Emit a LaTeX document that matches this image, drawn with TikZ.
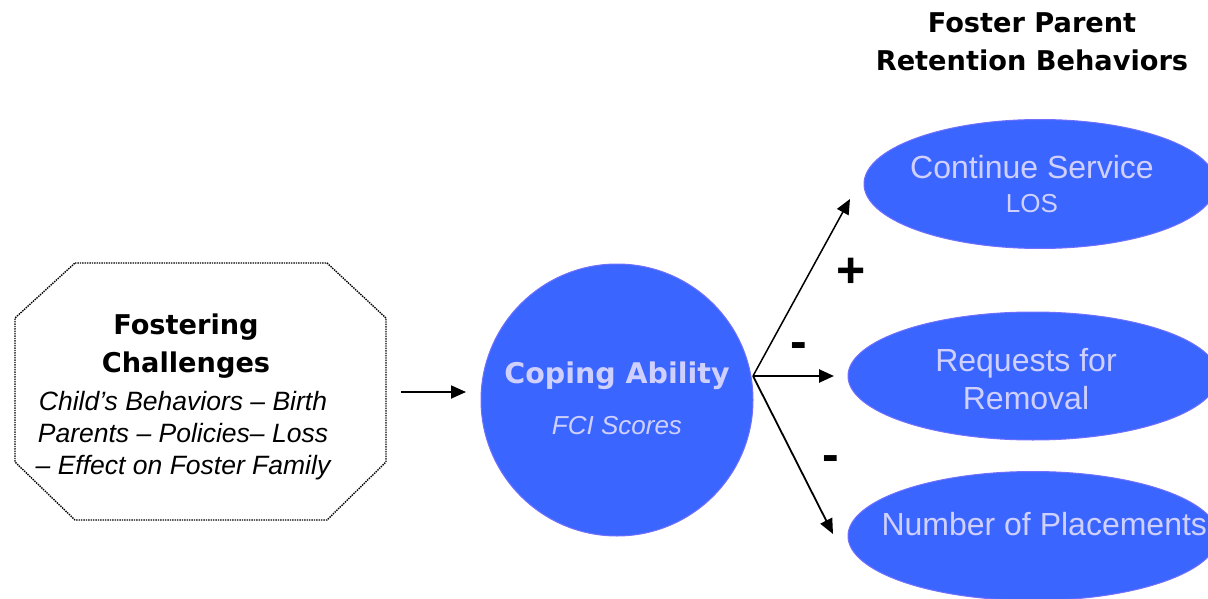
\documentclass[tikz,border=0pt]{standalone}
\usepackage{fontspec}
\setmainfont{Liberation Sans}
\newfontfamily\headfont{DejaVu Sans}
\usetikzlibrary{arrows.meta,shapes.geometric}
\definecolor{blobblue}{RGB}{58,102,255}
\definecolor{blobedge}{RGB}{112,112,255}
\definecolor{blobtext}{RGB}{208,208,255}
\tikzset{
  blob/.style={ellipse,fill=blobblue,draw=blobedge,line width=1pt,inner sep=0pt},
  headtxt/.style={font=\headfont\bfseries\fontsize{27.2}{38.5}\selectfont,align=center,text=black},
  conn/.style={-{Triangle[length=15pt,width=13pt]},line width=1.8pt,black},
  signtxt/.style={font=\bfseries\fontsize{50}{50}\selectfont,text=black,inner sep=0pt},
}
\begin{document}
\begin{tikzpicture}[x=1pt,y=-1pt]
\useasboundingbox (0,0) rectangle (1208,599);
% octagon
\draw[line width=1.4pt,densely dotted] (75,263) -- (327,263) -- (386,318) -- (386,462) -- (327,520) -- (75,520) -- (15,462) -- (15,318) -- cycle;
\node[headtxt] (fchead) at (186,346) {Fostering\\Challenges};
\node[font=\itshape\fontsize{26.5}{32}\selectfont,align=center] (fcbody) at (183,436) {Child’s Behaviors – Birth\\Parents – Policies– Loss\\– Effect on Foster Family};
% circle
\node[circle,fill=blobblue,draw=blobedge,line width=1pt,minimum size=272pt,inner sep=0pt] (cope) at (617,400) {};
\node[font=\headfont\bfseries\fontsize{28.5}{30}\selectfont,text=blobtext] (copet) at (617,376) {Coping Ability};
\node[font=\itshape\fontsize{26}{30}\selectfont,text=blobtext] (fci) at (617,426) {FCI Scores};
% ellipses
\node[blob,minimum width=352pt,minimum height=129pt] (cont) at (1040,184) {};
\node[blob,minimum width=370pt,minimum height=128pt] (req) at (1033,376) {};
\node[blob,minimum width=370pt,minimum height=129pt] (num) at (1033,536) {};
\node[font=\fontsize{32}{36}\selectfont,text=blobtext] (contt) at (1032,167) {Continue Service};
\node[font=\fontsize{26}{30}\selectfont,text=blobtext] (los) at (1032,204) {LOS};
\node[font=\fontsize{32}{38}\selectfont,text=blobtext,align=center] (reqt) at (1026,379) {Requests for\\Removal};
\node[font=\fontsize{32}{36}\selectfont,text=blobtext,anchor=west] (numt) at (878,524) {Number of Placements};
% title
\node[headtxt] (title) at (1032,42) {Foster Parent\\Retention Behaviors};
% connectors
\coordinate (inA) at (401,392);
\coordinate (inB) at (466,392);
\coordinate (src) at (753,376);
\coordinate (endT) at (850,199);
\coordinate (endM) at (834,376);
\coordinate (endB) at (833,534);
\draw[conn] (inA) -- (inB);
\draw[conn,line width=1.5pt] (src) -- (endT);
\draw[conn,line width=2.5pt] (src) -- (endM);
\draw[conn] (src) -- (endB);
% signs
\node[signtxt] (plus) at (851,273) {+};
\node[signtxt] (minA) at (799,351) {-};
\node[signtxt] (minB) at (831,464) {-};
\end{tikzpicture}
\end{document}
